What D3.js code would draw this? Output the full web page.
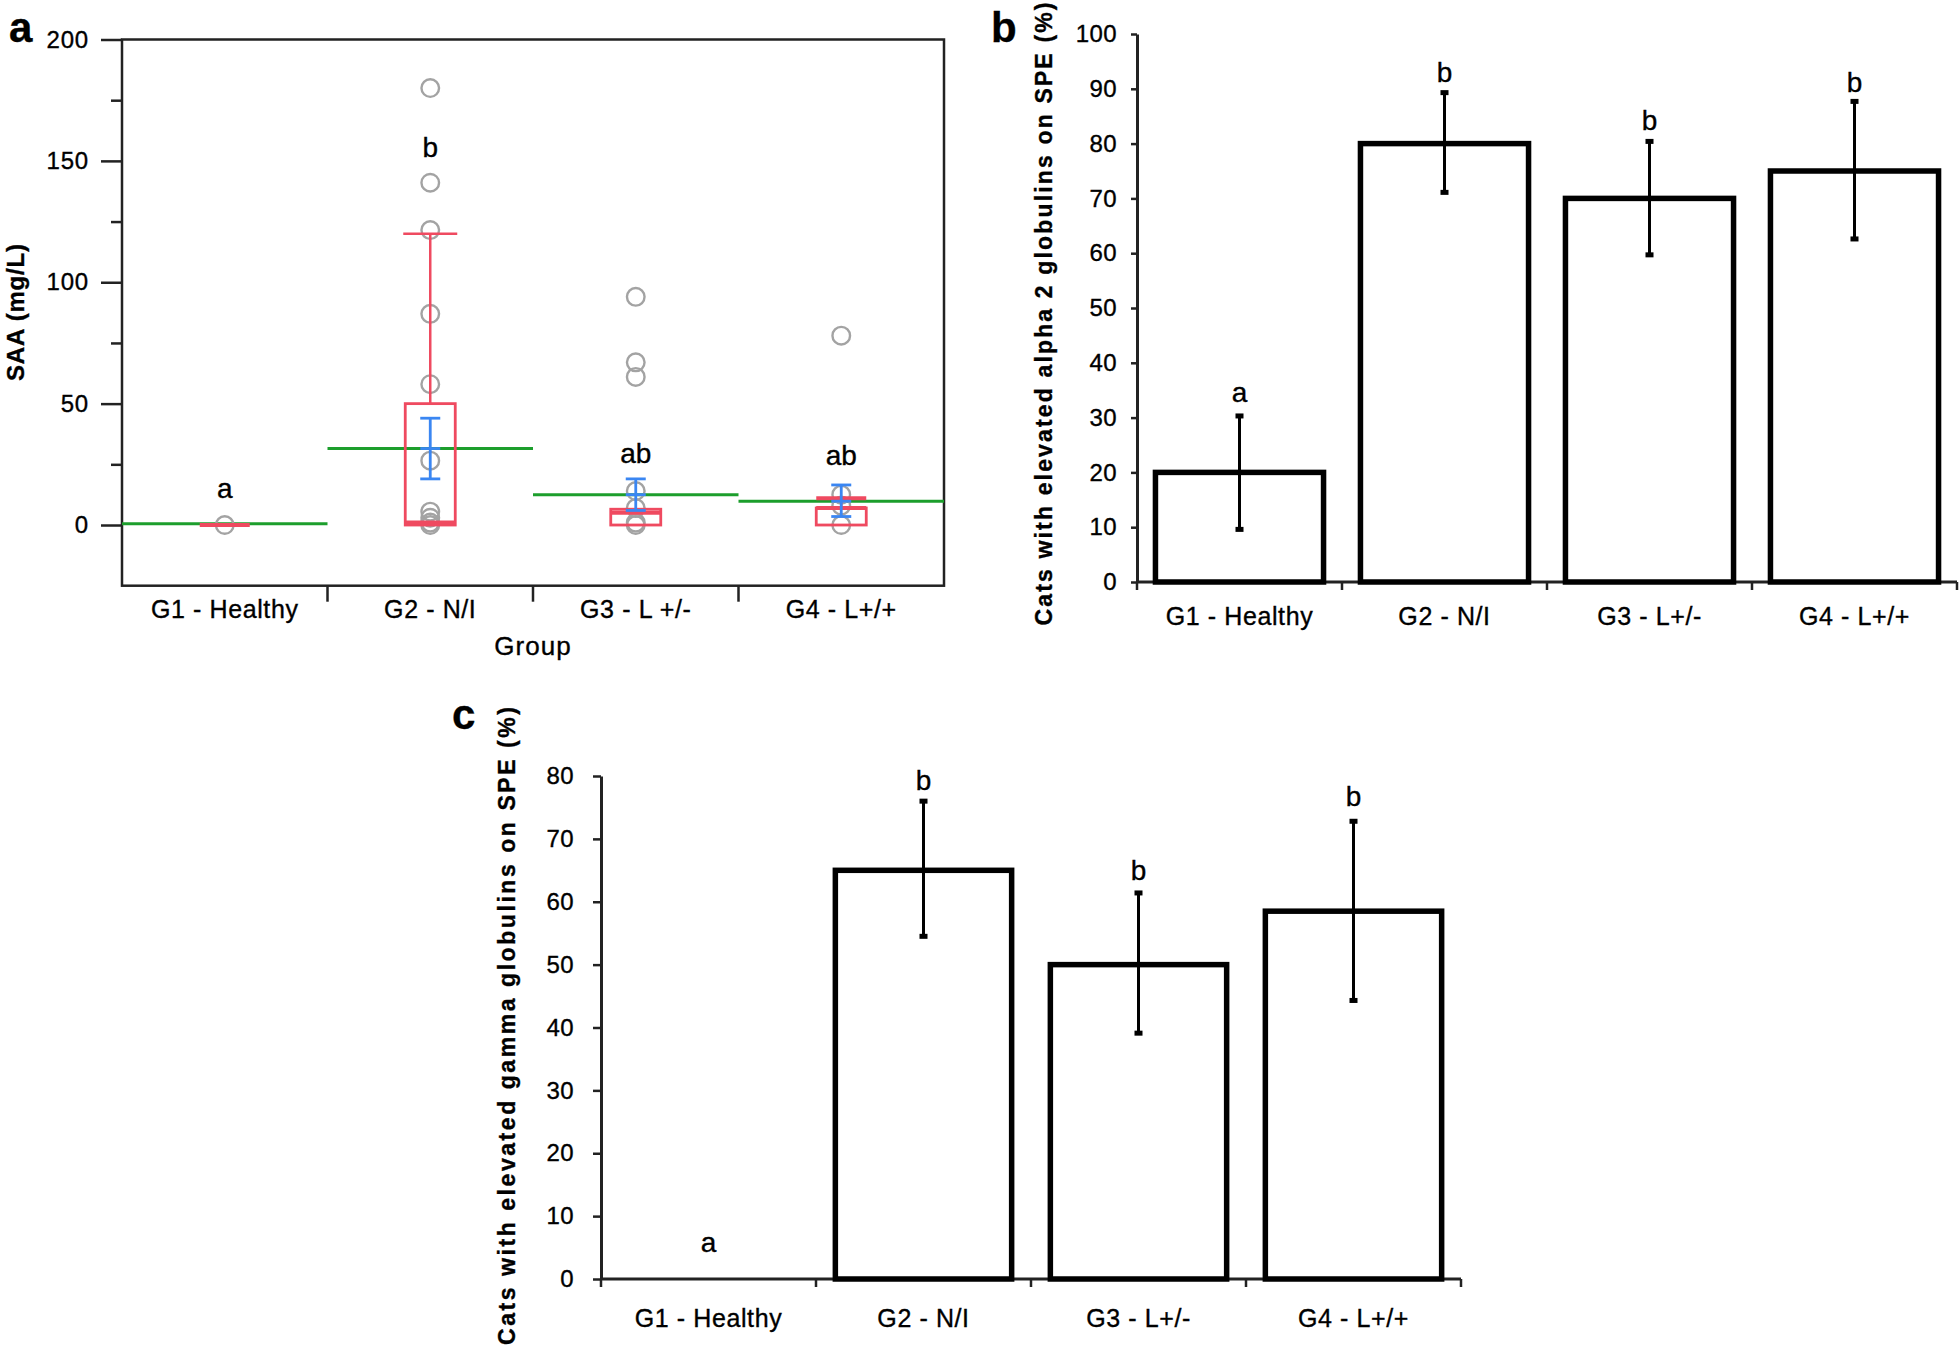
<!DOCTYPE html>
<html><head><meta charset="utf-8">
<script src="https://cdn.jsdelivr.net/npm/d3@7"></script>
<style>
body{margin:0;background:#fff}
svg{display:block}
text{font-family:"Liberation Sans",Arial,Helvetica,sans-serif;fill:#000;stroke:#000;stroke-width:0.35px}
</style>
</head><body>
<svg id="chart" width="1960" height="1348"></svg>
<script>
// ---------- data ----------
const groupsA = ["G1 - Healthy", "G2 - N/I", "G3 - L +/-", "G4 - L+/+"];
const groupsBC = ["G1 - Healthy", "G2 - N/I", "G3 - L+/-", "G4 - L+/+"];

// Panel a: SAA (mg/L)
const saaPoints = [[0], [180, 141, 121.5, 87, 58, 26.5, 5.5, 3, 1, 0], [94, 67, 61, 14, 7, 1, 0], [78, 12.5, 8, 0]];
const saaQ1 = [0, 0, 0, 0];
const saaMedian = [0, 1, 5, 7];
const saaQ3 = [0, 50, 6.5, 7];
const saaWhiskerHi = [0, 120, 6.5, 11];
const saaMean = [0.5, 31.5, 12.5, 9.8];
const saaSeLo = [null, 19, 6, 3.5];
const saaSeHi = [null, 44, 19, 16.5];
const saaLetters = ["a", "b", "ab", "ab"];
const saaLetterY = [11.3, 151.8, 25.7, 24.7];
const saaTicks = [0, 50, 100, 150, 200];
const saaMinorTicks = [25, 75, 125, 175];

// Panel b: alpha 2 globulins (%)
const alphaPct = [20, 80, 70, 75];
const alphaLo = [9.6, 71.1, 59.7, 62.6];
const alphaHi = [30.3, 89.3, 80.4, 87.7];
const alphaLetters = ["a", "b", "b", "b"];
const alphaLetterY = [32.8, 91.3, 82.5, 89.4];
const alphaTicks = [0, 10, 20, 30, 40, 50, 60, 70, 80, 90, 100];

// Panel c: gamma globulins (%)
const gammaPct = [0, 65, 50, 58.5];
const gammaLo = [null, 54.5, 39.1, 44.3];
const gammaHi = [null, 76, 61.4, 72.8];
const gammaLetters = ["a", "b", "b", "b"];
const gammaLetterY = [4.3, 77.8, 63.5, 75.3];
const gammaTicks = [0, 10, 20, 30, 40, 50, 60, 70, 80];

// ---------- drawing ----------
const svg = d3.select("#chart");
const RED = "#ef4a60", BLUE = "#3a86f2", GREEN = "#1c9e2c", GREY = "#a3a3a3", AX = "#222";

// ===== Panel a =====
(function () {
  const g = svg.append("g");
  const x = d3.scaleBand().domain(groupsA).range([122, 944]).padding(0);
  const y = d3.scaleLinear().domain([-25, 200]).range([585.7, 39.5]);
  const L = 122, R = 944, T = y(200), B = y(-25);

  g.append("rect").attr("x", L).attr("y", T).attr("width", R - L).attr("height", B - T)
    .attr("fill", "none").attr("stroke", AX).attr("stroke-width", 2.5);

  const ax = d3.axisLeft(y).tickValues(saaTicks).tickSize(21).tickPadding(12);
  const ag = g.append("g").attr("transform", `translate(${L},0)`).call(ax);
  ag.select(".domain").remove();
  ag.selectAll(".tick line").attr("stroke", AX).attr("stroke-width", 2.5);
  ag.selectAll(".tick text").style("font-size", "24px").style("letter-spacing", "0.8px").attr("fill", "#000");
  const mx = d3.axisLeft(y).tickValues(saaMinorTicks).tickSize(11).tickFormat("");
  const mg = g.append("g").attr("transform", `translate(${L},0)`).call(mx);
  mg.select(".domain").remove();
  mg.selectAll(".tick line").attr("stroke", AX).attr("stroke-width", 2.5);

  groupsA.slice(1).forEach(d => {
    g.append("line").attr("x1", x(d)).attr("x2", x(d)).attr("y1", B).attr("y2", B + 16)
      .attr("stroke", AX).attr("stroke-width", 2.5);
  });
  groupsA.forEach(d => {
    g.append("text").attr("x", x(d) + x.bandwidth() / 2).attr("y", 618)
      .attr("text-anchor", "middle").style("font-size", "25px").style("letter-spacing", "0.6px").text(d);
  });
  g.append("text").attr("x", (L + R) / 2).attr("y", 655).attr("text-anchor", "middle")
    .style("font-size", "26px").style("letter-spacing", "1px").text("Group");
  g.append("text").attr("transform", `translate(24,${(244 + 381) / 2}) rotate(-90)`)
    .attr("text-anchor", "middle").style("font-size", "24px").style("font-weight", "bold")
    .attr("textLength", 137).attr("lengthAdjust", "spacing").text("SAA (mg/L)");

  const bw = 50;
  groupsA.forEach((d, i) => {
    const cx = x(d) + x.bandwidth() / 2;
    g.append("line").attr("x1", x(d)).attr("x2", x(d) + x.bandwidth())
      .attr("y1", y(saaMean[i])).attr("y2", y(saaMean[i])).attr("stroke", GREEN).attr("stroke-width", 3);
    saaPoints[i].forEach(v => {
      g.append("circle").attr("cx", cx).attr("cy", y(v)).attr("r", 8.8)
        .attr("fill", "none").attr("stroke", GREY).attr("stroke-width", 2.4);
    });
    if (saaWhiskerHi[i] > saaQ3[i]) {
      g.append("line").attr("x1", cx).attr("x2", cx).attr("y1", y(saaQ3[i])).attr("y2", y(saaWhiskerHi[i]))
        .attr("stroke", RED).attr("stroke-width", 2.5);
      const cw = i === 1 ? 54 : bw;
      g.append("line").attr("x1", cx - cw / 2).attr("x2", cx + cw / 2)
        .attr("y1", y(saaWhiskerHi[i])).attr("y2", y(saaWhiskerHi[i]))
        .attr("stroke", RED).attr("stroke-width", i === 1 ? 2.5 : 4);
    }
    if (saaQ3[i] > saaQ1[i]) {
      g.append("rect").attr("x", cx - bw / 2).attr("y", y(saaQ3[i])).attr("width", bw)
        .attr("height", y(saaQ1[i]) - y(saaQ3[i])).attr("fill", "none").attr("stroke", RED).attr("stroke-width", 2.8);
    }
    g.append("line").attr("x1", cx - bw / 2).attr("x2", cx + bw / 2)
      .attr("y1", y(saaMedian[i])).attr("y2", y(saaMedian[i])).attr("stroke", RED).attr("stroke-width", 4);
    if (saaSeLo[i] !== null) {
      const sw = 20;
      g.append("line").attr("x1", cx).attr("x2", cx).attr("y1", y(saaSeLo[i])).attr("y2", y(saaSeHi[i]))
        .attr("stroke", BLUE).attr("stroke-width", 2.8);
      [saaSeLo[i], saaSeHi[i], saaMean[i]].forEach(v => {
        g.append("line").attr("x1", cx - sw / 2).attr("x2", cx + sw / 2).attr("y1", y(v)).attr("y2", y(v))
          .attr("stroke", BLUE).attr("stroke-width", 2.8);
      });
    }
    g.append("text").attr("x", cx).attr("y", y(saaLetterY[i])).attr("text-anchor", "middle")
      .style("font-size", "28px").text(saaLetters[i]);
  });

  svg.append("text").attr("x", 9).attr("y", 42).style("font-size", "42px").style("font-weight", "bold").text("a");
})();

// ===== Bar panels =====
function barPanel(cfg) {
  const g = svg.append("g");
  const x = d3.scaleBand().domain(groupsBC).range([cfg.x0, cfg.x1]).padding(0);
  const y = d3.scaleLinear().domain([0, cfg.max]).range([cfg.y0, cfg.yTop]);
  const ax = d3.axisLeft(y).tickValues(cfg.ticks).tickSize(cfg.tickLen).tickPadding(cfg.tickPad).tickSizeOuter(0);
  const ag = g.append("g").attr("transform", `translate(${cfg.x0},0)`).call(ax);
  ag.select(".domain").attr("stroke", AX).attr("stroke-width", 3);
  ag.selectAll(".tick line").attr("stroke", AX).attr("stroke-width", 2.5);
  ag.selectAll(".tick text").style("font-size", "24px").style("letter-spacing", "0.4px").attr("fill", "#000");
  g.append("line").attr("x1", cfg.x0).attr("x2", cfg.x1).attr("y1", cfg.y0).attr("y2", cfg.y0)
    .attr("stroke", AX).attr("stroke-width", 3);
  groupsBC.concat([null]).forEach(d => {
    const xx = d === null ? cfg.x1 : x(d);
    g.append("line").attr("x1", xx).attr("x2", xx).attr("y1", cfg.y0).attr("y2", cfg.y0 + 8)
      .attr("stroke", AX).attr("stroke-width", 2.5);
  });
  groupsBC.forEach(d => {
    g.append("text").attr("x", x(d) + x.bandwidth() / 2).attr("y", cfg.labelY)
      .attr("text-anchor", "middle").style("font-size", "25px").style("letter-spacing", "0.6px").text(d);
  });
  const frac = 0.82;
  groupsBC.forEach((d, i) => {
    const cx = x(d) + x.bandwidth() / 2;
    const w = x.bandwidth() * frac;
    if (cfg.values[i] > 0) {
      g.append("rect").attr("x", cx - w / 2).attr("y", y(cfg.values[i])).attr("width", w)
        .attr("height", y(0) - y(cfg.values[i])).attr("fill", "#fff").attr("stroke", "#000").attr("stroke-width", 5.5);
    }
    if (cfg.lo[i] !== null) {
      g.append("line").attr("x1", cx).attr("x2", cx).attr("y1", y(cfg.lo[i])).attr("y2", y(cfg.hi[i]))
        .attr("stroke", "#000").attr("stroke-width", 3);
      [cfg.lo[i], cfg.hi[i]].forEach(v => {
        g.append("rect").attr("x", cx - 4).attr("y", y(v) - 2.5).attr("width", 8).attr("height", 5).attr("fill", "#000");
      });
    }
    g.append("text").attr("x", cx).attr("y", y(cfg.letterY[i])).attr("text-anchor", "middle")
      .style("font-size", "28px").text(cfg.letters[i]);
  });
  g.append("text").attr("transform", `translate(${cfg.ylabX},${cfg.ylabC}) rotate(-90)`)
    .attr("text-anchor", "middle").attr("dominant-baseline", "central")
    .style("font-size", "23px").style("font-weight", "bold")
    .attr("textLength", cfg.ylabLen).attr("lengthAdjust", "spacing").text(cfg.ylabel);
  svg.append("text").attr("x", cfg.pX).attr("y", cfg.pY).style("font-size", "42px").style("font-weight", "bold").text(cfg.panel);
}

barPanel({
  x0: 1137, x1: 1957, y0: 582, yTop: 34, max: 100, ticks: alphaTicks, tickLen: 6, tickPad: 14,
  values: alphaPct, lo: alphaLo, hi: alphaHi, letters: alphaLetters, letterY: alphaLetterY,
  labelY: 625, ylabel: "Cats with elevated alpha 2 globulins on SPE (%)", ylabX: 1044, ylabC: 314, ylabLen: 623,
  panel: "b", pX: 991, pY: 42
});

barPanel({
  x0: 601, x1: 1461, y0: 1279, yTop: 776, max: 80, ticks: gammaTicks, tickLen: 8, tickPad: 19,
  values: gammaPct, lo: gammaLo, hi: gammaHi, letters: gammaLetters, letterY: gammaLetterY,
  labelY: 1327, ylabel: "Cats with elevated gamma  globulins on SPE (%)", ylabX: 507, ylabC: 1026, ylabLen: 638,
  panel: "c", pX: 452, pY: 729
});
</script>
</body></html>
